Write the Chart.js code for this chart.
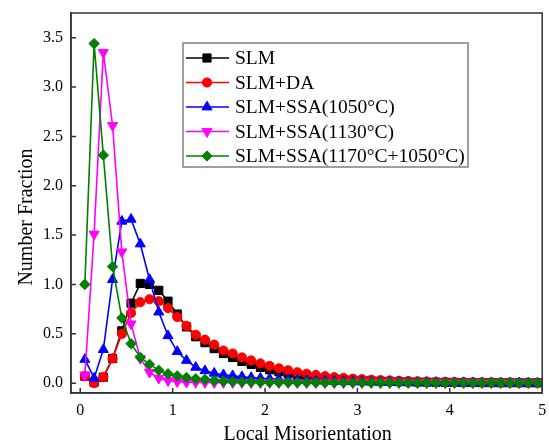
<!DOCTYPE html>
<html>
<head>
<meta charset="utf-8">
<script src="https://cdn.jsdelivr.net/npm/chart.js@4.4.0/dist/chart.umd.min.js"></script>
<style>
  html, body { margin: 0; padding: 0; background: #fff; }
  #wrap { width: 549px; height: 442px; }
</style>
</head>
<body>
<div id="wrap"><canvas id="chart" width="549" height="442"></canvas></div>
<script>
// Local misorientation bins (bin centres, step 0.1)
const xVals = [0.05, 0.15, 0.25, 0.35, 0.45, 0.55, 0.65, 0.75, 0.85, 0.95,
  1.05, 1.15, 1.25, 1.35, 1.45, 1.55, 1.65, 1.75, 1.85, 1.95,
  2.05, 2.15, 2.25, 2.35, 2.45, 2.55, 2.65, 2.75, 2.85, 2.95,
  3.05, 3.15, 3.25, 3.35, 3.45, 3.55, 3.65, 3.75, 3.85, 3.95,
  4.05, 4.15, 4.25, 4.35, 4.45, 4.55, 4.65, 4.75, 4.85, 4.95];

const slm = [0.07, 0.01, 0.06, 0.25, 0.53, 0.81, 1.01, 1.00, 0.94, 0.83,
  0.70, 0.57, 0.47, 0.41, 0.35, 0.30, 0.26, 0.22, 0.19, 0.16,
  0.135, 0.115, 0.097, 0.082, 0.07, 0.06, 0.05, 0.043, 0.037, 0.031,
  0.027, 0.023, 0.02, 0.017, 0.015, 0.013, 0.011, 0.01, 0.009, 0.008,
  0.007, 0.006, 0.006, 0.005, 0.005, 0.004, 0.004, 0.004, 0.003, 0.003];

const slmDa = [0.07, 0.00, 0.06, 0.25, 0.50, 0.71, 0.82, 0.85, 0.83, 0.76,
  0.67, 0.58, 0.49, 0.44, 0.39, 0.33, 0.30, 0.26, 0.23, 0.20,
  0.175, 0.15, 0.13, 0.11, 0.095, 0.083, 0.07, 0.06, 0.052, 0.045,
  0.04, 0.035, 0.03, 0.027, 0.024, 0.021, 0.018, 0.016, 0.014, 0.012,
  0.011, 0.01, 0.009, 0.008, 0.007, 0.006, 0.006, 0.005, 0.005, 0.004];

const ssa1050 = [0.24, 0.05, 0.34, 1.05, 1.64, 1.66, 1.41, 1.05, 0.72, 0.48,
  0.32, 0.23, 0.16, 0.125, 0.10, 0.085, 0.075, 0.065, 0.057, 0.05,
  0.044, 0.039, 0.034, 0.03, 0.026, 0.023, 0.02, 0.018, 0.016, 0.014,
  0.012, 0.011, 0.01, 0.009, 0.008, 0.007, 0.007, 0.006, 0.006, 0.005,
  0.005, 0.005, 0.004, 0.004, 0.004, 0.003, 0.003, 0.003, 0.003, 0.002];

const ssa1130 = [0.08, 1.51, 3.35, 2.61, 1.33, 0.60, 0.25, 0.11, 0.05, 0.025,
  0.015, 0.01, 0.008, 0.006, 0.005, 0.005, 0.005, 0.005, 0.004, 0.004,
  0.004, 0.004, 0.004, 0.003, 0.003, 0.003, 0.003, 0.003, 0.003, 0.003,
  0.003, 0.003, 0.002, 0.002, 0.002, 0.002, 0.002, 0.002, 0.002, 0.002,
  0.002, 0.002, 0.002, 0.002, 0.002, 0.002, 0.002, 0.002, 0.002, 0.002];

const ssa1170 = [1.00, 3.44, 2.31, 1.18, 0.66, 0.40, 0.26, 0.19, 0.13, 0.095,
  0.074, 0.057, 0.045, 0.037, 0.028, 0.021, 0.016, 0.013, 0.011, 0.009,
  0.008, 0.007, 0.007, 0.006, 0.006, 0.006, 0.005, 0.005, 0.005, 0.005,
  0.005, 0.004, 0.004, 0.004, 0.004, 0.004, 0.004, 0.004, 0.003, 0.003,
  0.003, 0.003, 0.003, 0.003, 0.003, 0.003, 0.003, 0.003, 0.003, 0.003];

const seriesNames = ['SLM', 'SLM+DA', 'SLM+SSA(1050°C)', 'SLM+SSA(1130°C)', 'SLM+SSA(1170°C+1050°C)'];
const xTicks = [0, 1, 2, 3, 4, 5];
const yTicks = [0, 0.5, 1, 1.5, 2, 2.5, 3, 3.5];
const xTitle = 'Local Misorientation';
const yTitle = 'Number Fraction';

const serif = "'Liberation Serif', 'Times New Roman', serif";
const axisColor = '#333';

function pts(ys) {
  return xVals.map((x, i) => ({ x: x, y: ys[i] }));
}

function mkSet(label, ys, color, style, radius, rot, order) {
  return {
    label: label,
    data: pts(ys),
    borderColor: color,
    backgroundColor: color,
    borderWidth: 1.6,
    pointStyle: style,
    pointRotation: rot,
    pointRadius: radius,
    pointBorderWidth: 1,
    pointBorderColor: color,
    pointBackgroundColor: color,
    tension: 0,
    order: order
  };
}

const datasets = [
  mkSet(seriesNames[0], slm, '#000000', 'rect', 5.8, 0, 5),
  mkSet(seriesNames[1], slmDa, '#ff0000', 'circle', 4.6, 0, 4),
  mkSet(seriesNames[2], ssa1050, '#0000ff', 'triangle', 5.8, 0, 3),
  mkSet(seriesNames[3], ssa1130, '#ff00ff', 'triangle', 5.8, 180, 2),
  mkSet(seriesNames[4], ssa1170, '#008000', 'rectRot', 5.2, 0, 1)
];

// box frame, inward ticks, axis titles and the legend box
const framePlugin = {
  id: 'framePlugin',
  afterDraw(chart) {
    const ctx = chart.ctx;
    const a = chart.chartArea;
    const xs = chart.scales.x, ys = chart.scales.y;
    ctx.save();
    ctx.strokeStyle = axisColor;
    ctx.lineWidth = 1.5;
    ctx.strokeRect(a.left, a.top, a.right - a.left, a.bottom - a.top);
    ctx.beginPath();
    xTicks.forEach(v => {
      const p = xs.getPixelForValue(v);
      ctx.moveTo(p, a.bottom); ctx.lineTo(p, a.bottom - 5);
    });
    yTicks.forEach(v => {
      const p = ys.getPixelForValue(v);
      ctx.moveTo(a.left, p); ctx.lineTo(a.left + 5, p);
    });
    ctx.stroke();

    // axis titles
    ctx.fillStyle = '#000';
    ctx.font = '20px ' + serif;
    ctx.textAlign = 'center';
    ctx.textBaseline = 'alphabetic';
    ctx.fillText(xTitle, (a.left + a.right) / 2 + 1, 440);
    ctx.save();
    ctx.translate(31.5, 217);
    ctx.rotate(-Math.PI / 2);
    ctx.fillText(yTitle, 0, 0);
    ctx.restore();

    // legend
    const lx = 183, ly = 43, lw = 285, lh = 124, row = 24.5;
    ctx.fillStyle = '#fff';
    ctx.fillRect(lx, ly, lw, lh);
    ctx.strokeStyle = '#808080';
    ctx.lineWidth = 1.5;
    ctx.strokeRect(lx, ly, lw, lh);
    ctx.font = '19.5px ' + serif;
    ctx.textAlign = 'left';
    ctx.textBaseline = 'middle';
    chart.data.datasets.forEach((d, i) => {
      const cy = ly + 15 + i * row;
      ctx.strokeStyle = d.borderColor;
      ctx.lineWidth = 1.6;
      ctx.beginPath();
      ctx.moveTo(lx + 3, cy); ctx.lineTo(lx + 46, cy);
      ctx.stroke();
      ctx.fillStyle = d.pointBackgroundColor;
      ctx.lineWidth = 1;
      Chart.helpers.drawPoint(ctx, {
        pointStyle: d.pointStyle, rotation: d.pointRotation,
        radius: d.pointRadius, borderWidth: 1
      }, lx + 24, cy);
      ctx.fillStyle = '#000';
      ctx.fillText(d.label, lx + 52, cy + 1);
    });
    ctx.restore();
  }
};

function noPad(s) {
  s.paddingTop = 0; s.paddingBottom = 0;
  s.paddingLeft = 0; s.paddingRight = 0;
}

new Chart(document.getElementById('chart'), {
  type: 'line',
  data: { datasets: datasets },
  plugins: [framePlugin],
  options: {
    responsive: false,
    animation: false,
    devicePixelRatio: 1,
    layout: { padding: { top: 13, right: 6, left: 0, bottom: 0 } },
    plugins: { legend: { display: false }, tooltip: { enabled: false } },
    scales: {
      x: {
        type: 'linear',
        min: -0.1,
        max: 5,
        afterFit: s => { s.height = 49; noPad(s); },
        afterBuildTicks: s => { s.ticks = xTicks.map(v => ({ value: v })); },
        grid: { display: false, drawTicks: false },
        border: { display: true, color: axisColor, width: 1.5 },
        ticks: {
          color: '#000', padding: 8, maxRotation: 0,
          font: { family: serif, size: 16 },
          callback: v => String(v)
        }
      },
      y: {
        type: 'linear',
        min: -0.1,
        max: 3.75,
        afterFit: s => { s.width = 71; noPad(s); },
        afterBuildTicks: s => { s.ticks = yTicks.map(v => ({ value: v })); },
        grid: { display: false, drawTicks: false },
        border: { display: true, color: axisColor, width: 1.5 },
        ticks: {
          color: '#000', padding: 8,
          font: { family: serif, size: 16 },
          callback: v => v.toFixed(1)
        }
      }
    }
  }
});
</script>
</body>
</html>
